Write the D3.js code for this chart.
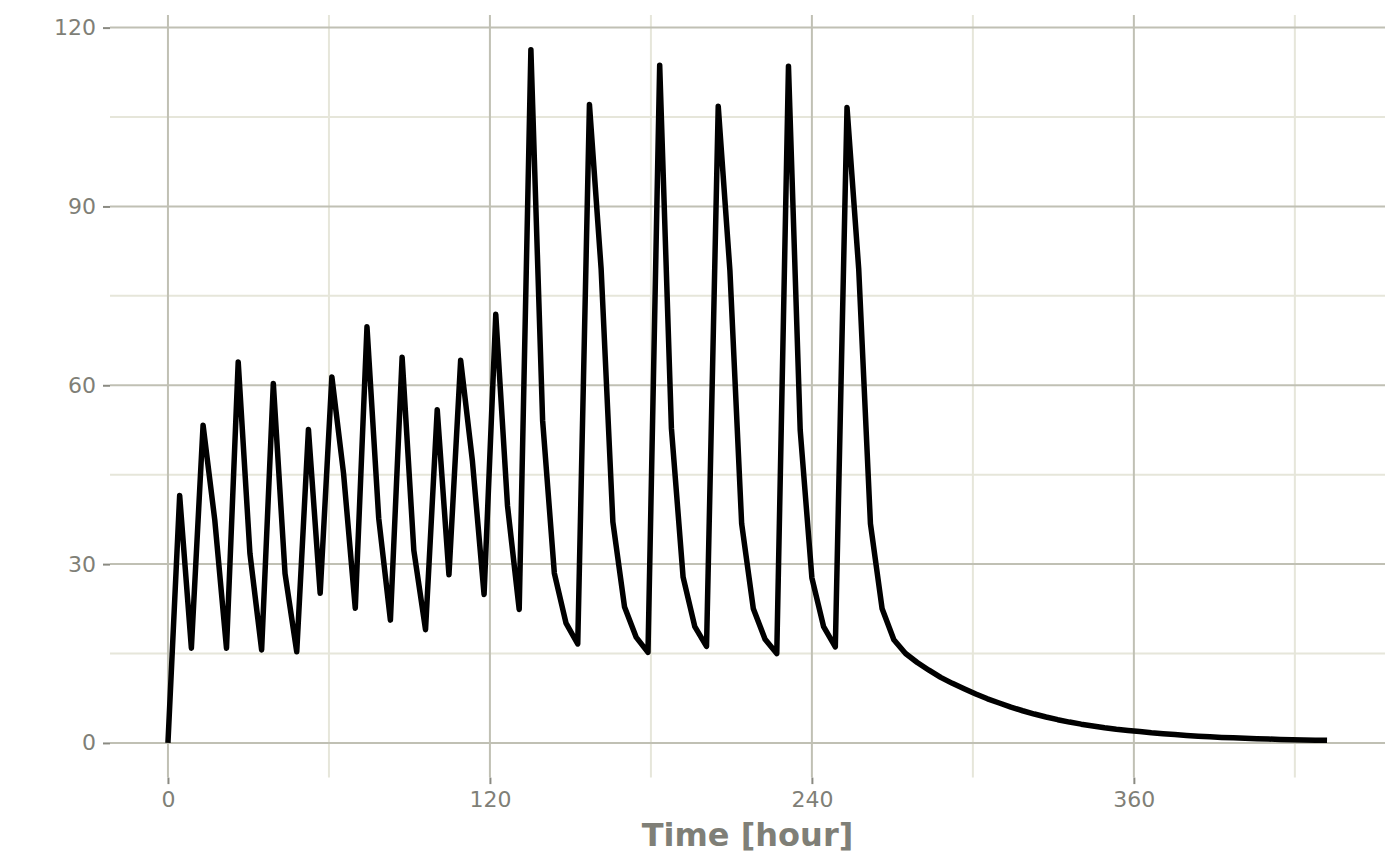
<!DOCTYPE html>
<html>
<head>
    <title>Time [hour]</title>
    <script src="https://d3js.org/d3.v7.min.js"></script>
    <style>
        body { margin: 0; background: #fff; }
        svg { display: block; }
    </style>
</head>
<body>
    <svg></svg>
    <script>
        // sample times (hours)
        const times = [
            0, 4.36, 8.73, 13.09, 17.45, 21.82, 26.18, 30.55, 34.91, 39.27,
            43.64, 48.00, 52.36, 56.73, 61.09, 65.45, 69.82, 74.18, 78.55, 82.91,
            87.27, 91.64, 96.00, 100.36, 104.73, 109.09, 113.45, 117.82, 122.18, 126.55,
            130.91, 135.27, 139.64, 144.00, 148.36, 152.73, 157.09, 161.45, 165.82, 170.18,
            174.55, 178.91, 183.27, 187.64, 192.00, 196.36, 200.73, 205.09, 209.45, 213.82,
            218.18, 222.55, 226.91, 231.27, 235.64, 240.00, 244.36, 248.73, 253.09, 257.45,
            261.82, 266.18, 270.55, 274.91, 279.27, 283.64, 288.00, 292.36, 296.73, 301.09,
            305.45, 309.82, 314.18, 318.55, 322.91, 327.27, 331.64, 336.00, 340.36, 344.73,
            349.09, 353.45, 357.82, 362.18, 366.55, 370.91, 375.27, 379.64, 384.00, 388.36,
            392.73, 397.09, 401.45, 405.82, 410.18, 414.55, 418.91, 423.27, 427.64, 432.00
        ];

        // concentration at each sample time
        const conc = [
            0, 41.5, 15.9, 53.3, 37.4, 15.9, 63.9, 31.8, 15.6, 60.3,
            28.4, 15.3, 52.6, 25.1, 61.4, 45.2, 22.6, 69.8, 37.7, 20.6,
            64.7, 32.3, 19.0, 55.9, 28.2, 64.2, 47.4, 24.9, 71.9, 39.8,
            22.4, 116.3, 54.1, 28.5, 20.1, 16.6, 107.1, 79.5, 37.1, 22.8,
            17.7, 15.2, 113.7, 52.8, 27.8, 19.5, 16.2, 106.8, 79.2, 36.8,
            22.5, 17.4, 15.0, 113.5, 52.5, 27.7, 19.5, 16.1, 106.6, 79.5,
            36.8, 22.5, 17.3, 15.0, 13.5, 12.2, 11.0, 10.0, 9.1, 8.2,
            7.4, 6.7, 6.0, 5.4, 4.85, 4.35, 3.9, 3.5, 3.15, 2.85,
            2.55, 2.3, 2.1, 1.9, 1.7, 1.55, 1.4, 1.25, 1.13, 1.02,
            0.93, 0.85, 0.77, 0.71, 0.65, 0.59, 0.54, 0.5, 0.46, 0.43
        ];

        const xMajor = [0, 120, 240, 360];
        const xMinor = [60, 180, 300, 420];
        const yMajor = [0, 30, 60, 90, 120];
        const yMinor = [15, 45, 75, 105];
        const xTitle = "Time [hour]";

        const width = 1400, height = 865;
        const panel = { left: 110, right: 1385, top: 15, bottom: 777.6 };

        const svg = d3.select("svg").attr("width", width).attr("height", height);

        // ggplot style 5% expansion around the data range
        const xPad = (d3.max(times) - d3.min(times)) * 0.05;
        const yPad = (d3.max(conc) - d3.min(conc)) * 0.05;
        const x = d3.scaleLinear()
            .domain([d3.min(times) - xPad, d3.max(times) + xPad])
            .range([panel.left, panel.right]);
        const y = d3.scaleLinear()
            .domain([d3.min(conc) - yPad, d3.max(conc) + yPad])
            .range([panel.bottom, panel.top]);

        const majorCol = "#c0c0b4", minorCol = "#e6e6da", textCol = "#7f7f77";

        const grid = svg.append("g");
        grid.selectAll(".ymin").data(yMinor).enter().append("line")
            .attr("x1", panel.left).attr("x2", panel.right)
            .attr("y1", d => y(d)).attr("y2", d => y(d))
            .attr("stroke", minorCol).attr("stroke-width", 2);
        grid.selectAll(".xmin").data(xMinor).enter().append("line")
            .attr("y1", panel.top).attr("y2", panel.bottom)
            .attr("x1", d => x(d)).attr("x2", d => x(d))
            .attr("stroke", minorCol).attr("stroke-width", 2);
        grid.selectAll(".ymaj").data(yMajor).enter().append("line")
            .attr("x1", panel.left).attr("x2", panel.right)
            .attr("y1", d => y(d)).attr("y2", d => y(d))
            .attr("stroke", majorCol).attr("stroke-width", 2);
        grid.selectAll(".xmaj").data(xMajor).enter().append("line")
            .attr("y1", panel.top).attr("y2", panel.bottom)
            .attr("x1", d => x(d)).attr("x2", d => x(d))
            .attr("stroke", majorCol).attr("stroke-width", 2);

        // axes: only short ticks and labels, no domain line
        const xAxis = svg.append("g")
            .attr("transform", `translate(0, ${panel.bottom})`)
            .call(d3.axisBottom(x).tickValues(xMajor).tickSize(6.5).tickPadding(7));
        const yAxis = svg.append("g")
            .attr("transform", `translate(${panel.left}, 0)`)
            .call(d3.axisLeft(y).tickValues(yMajor).tickSize(7).tickPadding(7));

        [xAxis, yAxis].forEach(ax => {
            ax.select(".domain").remove();
            ax.selectAll(".tick line").attr("stroke", "#8a8a82").attr("stroke-width", 2);
            ax.selectAll(".tick text")
                .attr("fill", textCol)
                .style("font-family", "DejaVu Sans, sans-serif")
                .style("font-size", "22px");
        });

        svg.append("text")
            .attr("x", (panel.left + panel.right) / 2)
            .attr("y", 846)
            .attr("text-anchor", "middle")
            .attr("fill", textCol)
            .style("font-family", "DejaVu Sans, sans-serif")
            .style("font-weight", "bold")
            .style("font-size", "32px")
            .text(xTitle);

        const line = d3.line()
            .x((d, i) => x(times[i]))
            .y(d => y(d));

        svg.append("path")
            .datum(conc)
            .attr("d", line)
            .attr("fill", "none")
            .attr("stroke", "#000")
            .attr("stroke-width", 5.5)
            .attr("stroke-linejoin", "round")
            .attr("stroke-linecap", "butt");
    </script>
</body>
</html>
